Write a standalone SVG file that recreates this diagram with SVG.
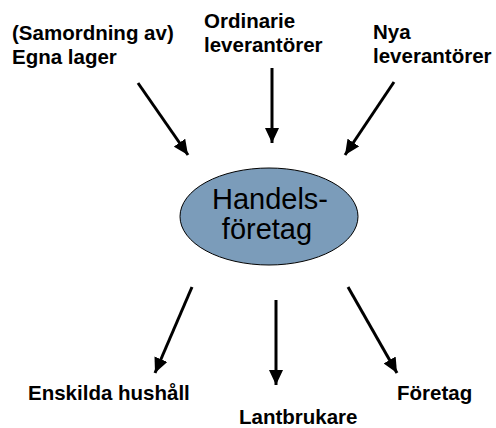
<svg xmlns="http://www.w3.org/2000/svg" width="496" height="428" viewBox="0 0 496 428">
<defs>
<marker id="ah" markerUnits="userSpaceOnUse" markerWidth="16" markerHeight="14" refX="15" refY="7" orient="auto">
<path d="M0,0 L15,7 L0,14 Z" fill="#000"/>
</marker>
<style>
.lbl{font-family:"Liberation Sans",Arial,sans-serif;font-weight:bold;font-size:20.5px;fill:#000}
.ctr{font-family:"Liberation Sans",Arial,sans-serif;font-size:29px;fill:#000}
.arr{stroke:#000;stroke-width:3;fill:none;marker-end:url(#ah)}
</style>
</defs>
<rect width="496" height="428" fill="#fff"/>
<g id="connectors">
<line class="arr" x1="138" y1="83" x2="188" y2="155"/>
<line class="arr" x1="272" y1="68" x2="272" y2="143"/>
<line class="arr" x1="394" y1="82" x2="345" y2="155"/>
<line class="arr" x1="192" y1="287" x2="155" y2="373"/>
<line class="arr" x1="276" y1="300" x2="276" y2="385"/>
<line class="arr" x1="348" y1="287" x2="397" y2="373"/>
</g>
<g id="handelsforetag">
<ellipse cx="269" cy="216.5" rx="89" ry="48.5" fill="#7b9cba" stroke="#000" stroke-width="1"/>
<text class="ctr" x="270" y="209" text-anchor="middle">Handels-</text>
<text class="ctr" x="267" y="239" text-anchor="middle">företag</text>
</g>
<g id="egna-lager">
<text class="lbl" x="12" y="40">(Samordning av)</text>
<text class="lbl" x="12" y="64">Egna lager</text>
</g>
<g id="ordinarie">
<text class="lbl" x="204" y="28">Ordinarie</text>
<text class="lbl" x="204" y="52">leverantörer</text>
</g>
<g id="nya">
<text class="lbl" x="373" y="39">Nya</text>
<text class="lbl" x="373" y="63">leverantörer</text>
</g>
<g id="hushall">
<text class="lbl" x="28" y="400">Enskilda hushåll</text>
</g>
<g id="lantbrukare">
<text class="lbl" x="239" y="424">Lantbrukare</text>
</g>
<g id="foretag">
<text class="lbl" x="397" y="400">Företag</text>
</g>
</svg>
